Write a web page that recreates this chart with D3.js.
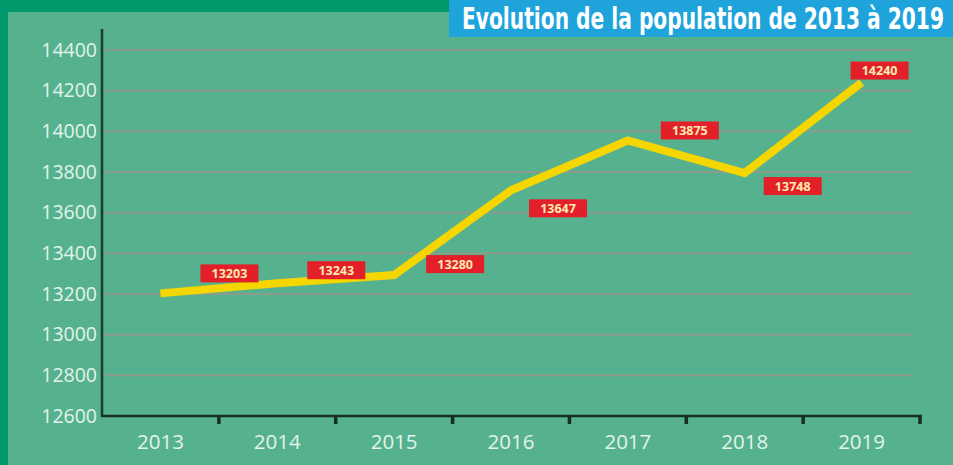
<!DOCTYPE html>
<html>
<head>
<meta charset="utf-8">
<script src="https://cdn.jsdelivr.net/npm/d3@7"></script>
<style>
  html, body { margin: 0; padding: 0; background: #00996c; }
  svg { display: block; }
</style>
</head>
<body>
<div id="chart"></div>
<script>
// Data
const years = ['2013', '2014', '2015', '2016', '2017', '2018', '2019']
// values printed in the red boxes
const labelValues = [13203, 13243, 13280, 13647, 13875, 13748, 14240]
// where the yellow line is actually drawn (differs a bit from the printed values)
const lineValues = [13203, 13253, 13293, 13710, 13955, 13795, 14240]
const yTicks = [12600, 12800, 13000, 13200, 13400, 13600, 13800, 14000, 14200, 14400]
const title = 'Evolution de la population de 2013 à 2019'

const width = 953
const height = 465
const margin = {left: 102, right: 33, top: 50, bottom: 49}

// label box offsets from their point (layout only)
const labelOffsets = [[69, -20], [59, -13], [61, -11], [47, 18], [62, -10], [48, 13], [18, -12]]

const svg = d3.select('#chart')
  .append('svg')
  .attr('width', width)
  .attr('height', height)
  .style('font-family', '"Open Sans", sans-serif')

// Backgrounds
svg.append('rect')
  .attr('width', width).attr('height', height)
  .style('fill', '#00996c')
svg.append('rect')
  .attr('x', 8).attr('y', 12)
  .attr('width', width - 8).attr('height', height - 12)
  .style('fill', '#56b18f')

// Title box
svg.append('rect')
  .attr('x', 449).attr('y', 0)
  .attr('width', width - 449).attr('height', 37)
  .style('fill', '#1ea4db')
// condensed look: measure the title and squeeze it horizontally to fit the box
const titleText = svg.append('text')
  .attr('x', 0).attr('y', 0)
  .style('font-family', '"Liberation Sans Narrow", "DejaVu Sans Condensed", "DejaVu Sans", sans-serif')
  .style('font-weight', 'bold')
  .style('font-size', '30px')
  .style('fill', '#ffffff')
  .text(title)
const titleLen = titleText.node().getComputedTextLength()
titleText.attr('transform', `translate(462,29) scale(${482 / titleLen},1)`)

// Scales
const xScale = d3.scaleBand()
  .domain(years)
  .range([margin.left, width - margin.right])
  .padding(0)
const yScale = d3.scaleLinear()
  .domain([12600, 14400])
  .range([height - margin.bottom, margin.top])
const xMid = d => xScale(d) + xScale.bandwidth() / 2

// Grid lines
svg.append('g')
  .selectAll('line')
  .data(yTicks.slice(1))
  .join('line')
  .attr('x1', margin.left + 2)
  .attr('x2', 913)
  .attr('y1', d => yScale(d))
  .attr('y2', d => yScale(d))
  .style('stroke', '#8c9c8a')
  .style('stroke-width', 2)

// Y axis
const yAxis = svg.append('g')
  .attr('transform', `translate(${margin.left},0)`)
  .call(d3.axisLeft(yScale).tickValues(yTicks).tickSize(0).tickPadding(5).tickFormat(d3.format('d')))
yAxis.select('.domain').remove()
yAxis.selectAll('text')
  .style('font-family', '"Open Sans", sans-serif')
  .style('font-size', '19.5px')
  .style('fill', '#e2f4e8')
svg.append('line')
  .attr('x1', margin.left).attr('x2', margin.left)
  .attr('y1', 29).attr('y2', yScale(12600) + 1)
  .style('stroke', '#1f3a2e')
  .style('stroke-width', 2.5)

// X axis
const xAxis = svg.append('g')
  .attr('transform', `translate(0,${yScale(12600)})`)
  .call(d3.axisBottom(xScale).tickSize(0).tickPadding(18))
xAxis.select('.domain').remove()
xAxis.selectAll('text')
  .style('font-family', '"Open Sans", sans-serif')
  .style('font-size', '20.5px')
  .style('fill', '#e2f4e8')
svg.append('line')
  .attr('x1', margin.left).attr('x2', 922)
  .attr('y1', yScale(12600)).attr('y2', yScale(12600))
  .style('stroke', '#15301f')
  .style('stroke-width', 2.5)
svg.append('g')
  .selectAll('line')
  .data(years)
  .join('line')
  .attr('x1', d => xScale(d) + xScale.bandwidth())
  .attr('x2', d => xScale(d) + xScale.bandwidth())
  .attr('y1', yScale(12600))
  .attr('y2', yScale(12600) + 8)
  .style('stroke', '#15301f')
  .style('stroke-width', 3.5)

// Population line
const line = d3.line()
  .x((d, i) => xMid(years[i]))
  .y(d => yScale(d))
svg.append('path')
  .datum(lineValues)
  .attr('d', line)
  .style('fill', 'none')
  .style('stroke', '#f6d600')
  .style('stroke-width', 8)
  .style('stroke-linejoin', 'miter')

// Value labels
const labels = svg.append('g')
  .selectAll('g')
  .data(labelValues)
  .join('g')
  .attr('transform', (d, i) => `translate(${xMid(years[i]) + labelOffsets[i][0]},${yScale(lineValues[i]) + labelOffsets[i][1]})`)
labels.append('rect')
  .attr('x', -29).attr('y', -9)
  .attr('width', 58).attr('height', 18)
  .style('fill', '#e3202a')
labels.append('text')
  .attr('text-anchor', 'middle')
  .attr('dy', '0.36em')
  .style('font-family', '"Open Sans", sans-serif')
  .style('font-weight', 'bold')
  .style('font-size', '12.5px')
  .style('fill', '#fdeab0')
  .text(d => d)
</script>
</body>
</html>
